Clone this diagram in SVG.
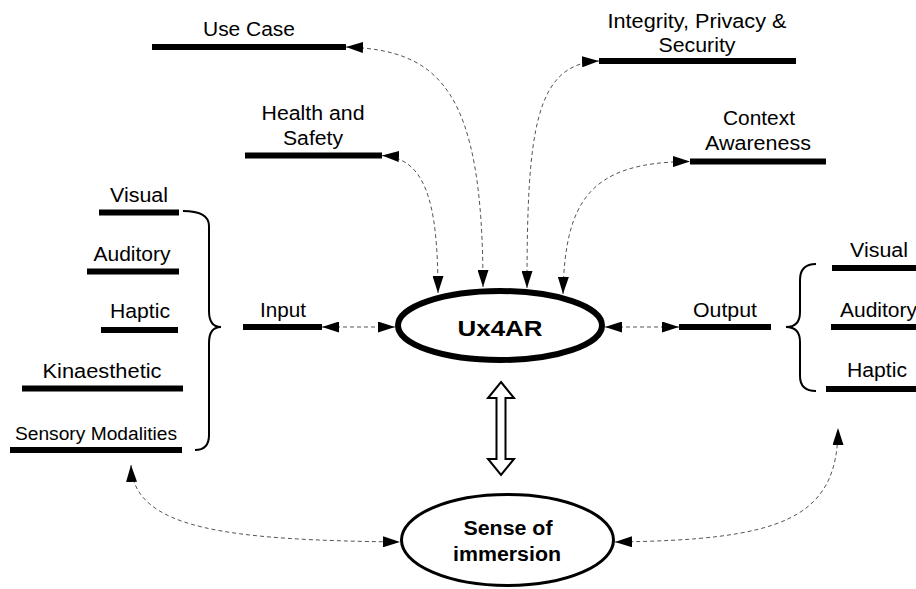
<svg xmlns="http://www.w3.org/2000/svg" width="916" height="589" viewBox="0 0 916 589">
<style>
text{font-family:"Liberation Sans",Arial,sans-serif;fill:#000}
.t{font-size:20px}
.s{font-size:18px}
.b{font-weight:bold}
.bar{stroke:#000;stroke-width:6;fill:none}
.br{stroke:#000;stroke-width:2;fill:none}
.c{stroke:#555;stroke-width:1;stroke-dasharray:4 3;fill:none;marker-start:url(#ah);marker-end:url(#ah)}
</style>
<defs>
<marker id="ah" markerUnits="userSpaceOnUse" markerWidth="17" markerHeight="11" refX="17" refY="5.5" orient="auto-start-reverse" viewBox="0 0 17 11">
<path d="M0,0 L17,5.5 L0,11 z" fill="#000"/>
</marker>
</defs>
<rect width="916" height="589" fill="#fff"/>

<g id="use-case">
<line class="bar" x1="152" y1="47" x2="346" y2="47"/>
<text class="t" x="249" y="36" text-anchor="middle" textLength="92" lengthAdjust="spacingAndGlyphs">Use Case</text>
</g>
<g id="health-safety">
<line class="bar" x1="245" y1="155.5" x2="382" y2="155.5"/>
<text class="t" x="313" y="120" text-anchor="middle" textLength="103" lengthAdjust="spacingAndGlyphs">Health and</text>
<text class="t" x="313" y="145" text-anchor="middle" textLength="60" lengthAdjust="spacingAndGlyphs">Safety</text>
</g>
<g id="integrity">
<line class="bar" x1="599" y1="61" x2="796" y2="61"/>
<text class="t" x="697" y="28" text-anchor="middle" textLength="179" lengthAdjust="spacingAndGlyphs">Integrity, Privacy &amp;</text>
<text class="t" x="697" y="52" text-anchor="middle" textLength="77" lengthAdjust="spacingAndGlyphs">Security</text>
</g>
<g id="context">
<line class="bar" x1="690" y1="161.5" x2="826" y2="161.5"/>
<text class="t" x="759" y="125" text-anchor="middle" textLength="72" lengthAdjust="spacingAndGlyphs">Context</text>
<text class="t" x="758" y="150" text-anchor="middle" textLength="106" lengthAdjust="spacingAndGlyphs">Awareness</text>
</g>

<g id="in-visual">
<line class="bar" x1="99" y1="212.5" x2="179" y2="212.5"/>
<text class="t" x="139" y="202" text-anchor="middle" textLength="58" lengthAdjust="spacingAndGlyphs">Visual</text>
</g>
<g id="in-auditory">
<line class="bar" x1="87" y1="271.5" x2="179" y2="271.5"/>
<text class="t" x="132" y="261" text-anchor="middle" textLength="77" lengthAdjust="spacingAndGlyphs">Auditory</text>
</g>
<g id="in-haptic">
<line class="bar" x1="101" y1="330" x2="178" y2="330"/>
<text class="t" x="140" y="318" text-anchor="middle" textLength="60" lengthAdjust="spacingAndGlyphs">Haptic</text>
</g>
<g id="in-kinaesthetic">
<line class="bar" x1="22" y1="388.5" x2="183" y2="388.5"/>
<text class="t" x="102" y="378" text-anchor="middle" textLength="119" lengthAdjust="spacingAndGlyphs">Kinaesthetic</text>
</g>
<g id="sensory-modalities">
<line class="bar" x1="10" y1="450" x2="182" y2="450"/>
<text class="s" x="96" y="440" text-anchor="middle" textLength="162" lengthAdjust="spacingAndGlyphs">Sensory Modalities</text>
</g>
<g id="in-brace">
<path class="br" d="M183 211 Q209 211 209 226 L209 311 Q209 327 221 327 Q209 327 209 343 L209 435 Q209 450 195 450"/>
</g>

<g id="input">
<line class="bar" x1="243" y1="327" x2="322" y2="327"/>
<text class="t" x="283" y="317" text-anchor="middle" textLength="46" lengthAdjust="spacingAndGlyphs">Input</text>
</g>
<g id="output">
<line class="bar" x1="679" y1="327" x2="771" y2="327"/>
<text class="t" x="725" y="317" text-anchor="middle" textLength="64" lengthAdjust="spacingAndGlyphs">Output</text>
</g>
<g id="out-brace">
<path class="br" d="M816 264 Q800 264 800 280 L800 312 Q800 327 786 327 Q800 327 800 342 L800 376 Q800 391 816 391"/>
</g>
<g id="out-visual">
<line class="bar" x1="832" y1="268" x2="916" y2="268"/>
<text class="t" x="879" y="257" text-anchor="middle" textLength="58" lengthAdjust="spacingAndGlyphs">Visual</text>
</g>
<g id="out-auditory">
<line class="bar" x1="831" y1="327" x2="916" y2="327"/>
<text class="t" x="840" y="317" textLength="77" lengthAdjust="spacingAndGlyphs">Auditory</text>
</g>
<g id="out-haptic">
<line class="bar" x1="826" y1="389" x2="916" y2="389"/>
<text class="t" x="877" y="377" text-anchor="middle" textLength="60" lengthAdjust="spacingAndGlyphs">Haptic</text>
</g>

<g id="ux4ar">
<ellipse cx="500" cy="325.5" rx="102" ry="34.5" fill="#fff" stroke="#000" stroke-width="6"/>
<text class="b" x="500" y="336" text-anchor="middle" font-size="22" textLength="85" lengthAdjust="spacingAndGlyphs">Ux4AR</text>
</g>

<g id="immersion">
<ellipse cx="507.5" cy="540" rx="106" ry="45.5" fill="#fff" stroke="#000" stroke-width="3"/>
<text class="b" x="508" y="535" text-anchor="middle" font-size="19.5" textLength="89" lengthAdjust="spacingAndGlyphs">Sense of</text>
<text class="b" x="507" y="561" text-anchor="middle" font-size="19.5" textLength="108" lengthAdjust="spacingAndGlyphs">immersion</text>
</g>

<g id="connectors">
<path class="c" d="M346 47 C440 50 483 90 483 287"/>
<path class="c" d="M382 155.5 C425 158 438 200 438 293"/>
<path class="c" d="M527 288 C527 130 535 64 599 61"/>
<path class="c" d="M563 294 C565 200 590 162 690 161.5"/>
<path class="c" d="M322 327 L395 327"/>
<path class="c" d="M605 327 L679 327"/>
<path class="c" d="M131 465 C133 530 230 540 400 542"/>
<path class="c" d="M615 542 C780 540 838 520 838 428"/>
<polygon points="501,382 514,398 505.5,398 505.5,459 514,459 501,475 488,459 496.5,459 496.5,398 488,398" fill="#fff" stroke="#000" stroke-width="2"/>
</g>
</svg>
